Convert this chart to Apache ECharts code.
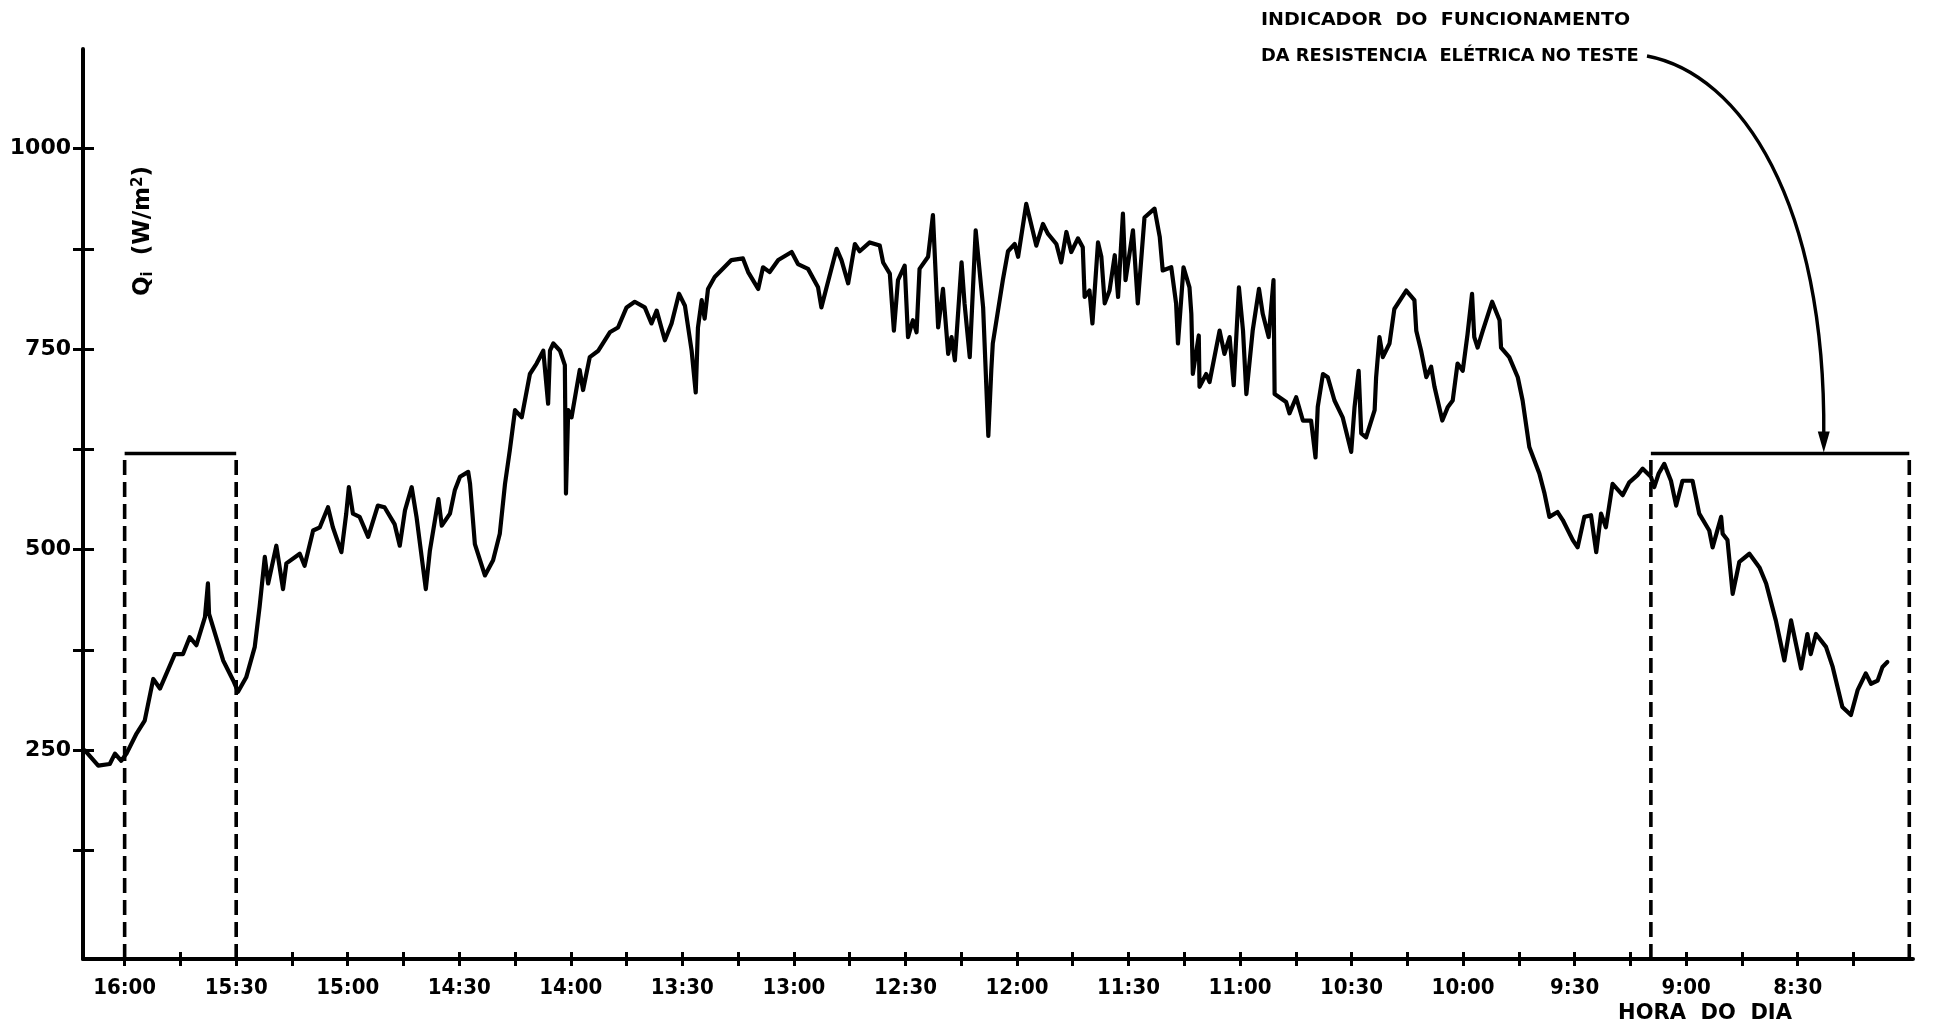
<!DOCTYPE html>
<html>
<head>
<meta charset="utf-8">
<script src="https://cdn.jsdelivr.net/npm/echarts@6/dist/echarts.min.js"></script>
<style>
  html, body { margin: 0; padding: 0; background: #ffffff; }
  #chart { width: 1938px; height: 1026px; }
</style>
</head>
<body>
<div id="chart"></div>
<script>
// Clock time of each reading, in minutes after midnight (afternoon first, the axis runs right-to-left in time)
const clockMinutes = [
  970.7, 967.1, 964.0, 962.6, 960.9, 959.5, 956.8, 954.6, 952.3, 950.5, 946.5, 944.3, 942.5, 940.7, 938.4, 937.6, 937.3,
  933.5, 930.8, 929.5, 927.3, 925.0, 923.7, 922.3, 921.4, 919.2, 917.4, 916.5, 912.9, 911.6, 909.3, 907.5, 905.3, 904.0,
  901.7, 900.4, 899.7, 898.6, 896.8, 894.5, 891.9, 890.1, 887.4, 886.0,
  884.6, 882.8, 881.5, 879.0, 877.9, 875.6, 874.7, 872.5, 871.2, 869.8, 867.6, 867.1, 865.8, 863.1, 860.9, 859.1, 857.7,
  856.4, 855.0, 853.2, 851.0, 849.2, 847.4, 846.1, 845.6, 844.7, 842.9, 841.6, 841.3, 840.7, 839.8, 837.6, 836.7, 834.9,
  832.6, 829.5, 827.3, 825.0, 822.8, 820.1, 818.3, 816.9, 814.7, 812.9, 810.9, 809.3, 807.5, 806.4, 805.8, 804.8, 804.0, 803.1,
  801.3, 796.8, 793.7, 792.3, 789.6, 788.3, 786.5, 784.2, 780.6, 778.9, 776.2, 773.5, 772.6, 771.2, 768.5, 767.2, 765.4,
  763.6, 762.3, 759.6, 756.9, 756.0, 754.2, 753.1, 752.0, 750.2, 749.3, 748.0, 747.0, 746.2, 743.9, 742.6, 741.2, 739.9,
  738.5, 737.6, 736.7, 734.9, 734.1, 732.7, 731.1, 729.1, 727.7, 726.9, 726.5, 723.8, 722.4, 720.6,
  719.7, 717.5, 714.8, 713.0, 711.7, 709.4, 708.1, 706.7, 705.4, 703.6, 702.3, 701.8, 700.5, 699.7, 698.2, 697.3, 696.4,
  695.1, 693.7, 692.8, 691.5, 690.8, 688.8, 687.5, 685.7, 683.0, 681.6, 680.8, 678.5, 677.2, 676.7, 675.2, 673.6, 673.1,
  672.7, 671.1, 670.9, 669.1, 668.2, 665.5, 664.2, 662.8, 661.7, 660.3, 659.2, 658.3, 656.6, 654.9, 653.9, 652.3, 651.0,
  650.7, 647.6, 646.7, 644.9, 643.1, 640.9, 639.7, 639.1, 637.7, 636.4,
  634.6, 632.4, 630.1, 629.2, 628.1, 627.4, 626.1, 623.8, 623.4, 622.5, 621.6, 619.8, 618.5, 615.3, 613.1, 612.6, 611.3,
  609.9, 608.6, 607.7, 605.6, 604.1, 602.8, 601.5, 600.1, 598.8, 597.6, 597.0, 596.1, 594.7, 592.2, 590.2, 589.8, 587.6,
  585.3, 584.0, 582.2, 579.5, 578.1, 576.8, 574.6, 573.2, 570.5, 569.2, 567.4, 565.6, 564.2, 562.9, 561.6, 559.8, 557.1,
  555.3, 553.1,
  551.7, 549.5, 548.6, 547.4, 545.9, 544.1, 542.7, 541.0, 538.3, 536.5, 533.8, 532.9, 530.6, 530.2, 528.9, 527.5, 525.7,
  523.0, 520.3, 518.5, 515.9, 513.6, 511.8, 509.1, 507.4, 506.5, 505.1, 502.4, 500.6, 498.0, 495.7, 493.9, 491.7, 490.3,
  488.5, 487.2, 485.9
];

// Incident irradiance Qi in W/m², one value per reading above
const irradiance = [
  250, 231, 233, 246, 237, 246, 271, 287, 339, 327, 370, 370, 391, 381, 416, 458, 420,
  362, 337, 323, 341, 379, 429, 491, 458, 505, 451, 483, 495, 480, 524, 528, 553, 528,
  497, 545, 578, 545, 541, 516, 555, 553, 532, 505,
  549, 578, 541, 451, 499, 563, 530, 545, 574, 591, 597, 582, 507, 468, 487, 520, 582,
  624, 674, 665, 719, 732, 748, 682, 748, 757, 748, 730, 570, 674, 665, 724, 699, 740,
  748, 771, 777, 802, 809, 802, 782, 798, 761, 782, 819, 804, 748, 696, 777, 811, 788, 825,
  840, 861, 863, 846, 825, 852, 846, 861, 871, 856, 850, 827, 802, 827, 875, 861, 832,
  881, 872, 883, 879, 858, 844, 773, 836, 854, 765, 786, 771, 850, 865, 917, 777, 825,
  744, 765, 736, 858, 807, 740, 898, 802, 642, 724, 757, 836, 872, 881,
  865, 931, 879, 906, 894, 881, 858, 896, 871, 888, 877, 815, 823, 782, 883, 865, 807,
  823, 867, 815, 919, 836, 898, 807, 914, 925, 890, 848, 852, 807, 757, 852, 827, 794,
  719, 767, 703, 719, 709, 773, 744, 765, 705, 827, 773, 694, 773, 825, 794, 765, 836,
  694, 684, 670, 690, 661, 661, 615, 678, 719, 715,
  686, 665, 622, 678, 723, 645, 640, 674, 715, 765, 740, 757, 800, 823, 811, 773, 748,
  715, 728, 703, 661, 678, 686, 732, 723, 769, 819, 765, 752, 773, 809, 786, 752, 740,
  715, 686, 628, 595, 570, 541, 547, 537, 512, 503, 541, 543, 497, 545, 528, 582, 568,
  584, 593,
  601, 591, 578, 595, 607, 586, 555, 586, 586, 545, 524, 503, 541, 520, 512, 445, 485,
  495, 478, 458, 412, 362, 412, 352, 395, 370, 395, 379, 354, 304, 294, 325, 346, 333,
  337, 354, 360
];

// Periods when the electric heater of the test was switched on: [start, end] in minutes
const heaterPeriods = [[960, 930], [549.5, 480]];
const heaterLevel = 620;      // height of the on/off indicator, in axis units
const arrowTime = 503;        // where the callout arrow meets the indicator

// Axis ticks and labels
const xTickMinutes = [495, 510, 525, 540, 555, 570, 585, 600, 615, 630, 645, 660, 675, 690, 705, 720, 735, 750,
  765, 780, 795, 810, 825, 840, 855, 870, 885, 900, 915, 930, 945, 960];
const xLabelMinutes = [510, 540, 570, 600, 630, 660, 690, 720, 750, 780, 810, 840, 870, 900, 930, 960];
const yTickValues = [125, 250, 375, 500, 625, 750, 875, 1000];
const yLabelValues = [250, 500, 750, 1000];

const X_MIN = 479, X_MAX = 971.2, Y_MIN = -10, Y_MAX = 1124;

function clockLabel(v) {
  const h = Math.floor(v / 60);
  const m = Math.round(v - h * 60);
  return h + ':' + String(m).padStart(2, '0');
}

const chart = echarts.init(document.getElementById('chart'), null, { renderer: 'canvas' });

const ink = '#000000';
const series = [{
  type: 'line',
  name: 'Qi',
  data: clockMinutes.map((t, i) => [t, irradiance[i]]),
  symbol: 'none',
  smooth: false,
  lineStyle: { color: ink, width: 4.2, join: 'round', cap: 'round' },
  z: 5
}];

heaterPeriods.forEach(([a, b]) => {
  [a, b].forEach(edge => {
    series.push({
      type: 'line',
      data: [[edge, Y_MIN], [edge, heaterLevel]],
      symbol: 'none',
      lineStyle: { color: ink, width: 3.6, type: [15, 7] },
      z: 3
    });
  });
  series.push({
    type: 'line',
    data: [[a, heaterLevel], [b, heaterLevel]],
    symbol: 'none',
    lineStyle: { color: ink, width: 3.6 },
    z: 3
  });
});

chart.setOption({
  animation: false,
  backgroundColor: '#ffffff',
  grid: { left: 83, right: 25, top: 49, bottom: 67, containLabel: false },
  xAxis: [{
    type: 'value', inverse: true, min: X_MIN, max: X_MAX, position: 'bottom',
    axisLine: { show: true, onZero: false, lineStyle: { color: ink, width: 4 } },
    axisTick: { show: true, customValues: xTickMinutes, length: 7, lineStyle: { color: ink, width: 3 } },
    axisLabel: {
      customValues: xLabelMinutes, formatter: clockLabel, fontSize: 22, margin: 18,
      fontFamily: 'DejaVu Sans Condensed', fontWeight: 'bold', color: ink
    },
    splitLine: { show: false }
  }, {
    type: 'value', inverse: true, min: X_MIN, max: X_MAX, position: 'bottom',
    axisLine: { show: false, onZero: false },
    axisTick: { show: true, inside: true, customValues: xTickMinutes, length: 7, lineStyle: { color: ink, width: 3 } },
    axisLabel: { show: false },
    splitLine: { show: false }
  }],
  yAxis: [{
    type: 'value', min: Y_MIN, max: Y_MAX, position: 'left',
    axisLine: { show: true, onZero: false, lineStyle: { color: ink, width: 4 } },
    axisTick: { show: true, customValues: yTickValues, length: 10, lineStyle: { color: ink, width: 3 } },
    axisLabel: {
      customValues: yLabelValues, formatter: v => String(v), fontSize: 22, margin: 12,
      fontFamily: 'DejaVu Sans', fontWeight: 'bold', color: ink
    },
    splitLine: { show: false }
  }, {
    type: 'value', min: Y_MIN, max: Y_MAX, position: 'left',
    axisLine: { show: false, onZero: false },
    axisTick: { show: true, inside: true, customValues: yTickValues, length: 11, lineStyle: { color: ink, width: 3 } },
    axisLabel: { show: false },
    splitLine: { show: false }
  }],
  series: series
});

// Annotations: axis titles and the callout pointing at the heater indicator
const tip = chart.convertToPixel({ xAxisIndex: 0, yAxisIndex: 0 }, [arrowTime, heaterLevel]);
const start = [1647, 56];

chart.setOption({
  graphic: [
    {
      type: 'text', x: 143, y: 231, rotation: Math.PI / 2,
      style: {
        text: 'Q{s|i}  (W/m{p|2})',
        align: 'center', verticalAlign: 'middle',
        font: 'bold 23px "DejaVu Sans"', fill: ink,
        rich: {
          s: { fontSize: 15, fontWeight: 'bold', fontFamily: 'DejaVu Sans', verticalAlign: 'bottom', padding: [10, 0, 0, 0] },
          p: { fontSize: 15, fontWeight: 'bold', fontFamily: 'DejaVu Sans', verticalAlign: 'top', padding: [0, 0, 10, 0] }
        }
      }
    },
    {
      type: 'text', x: 1705, y: 1014,
      style: { text: 'HORA  DO  DIA', align: 'center', verticalAlign: 'middle', font: 'bold 21px "DejaVu Sans"', fill: ink }
    },
    {
      type: 'text', x: 1261, y: 21, scaleX: 1.12,
      style: { text: 'INDICADOR  DO  FUNCIONAMENTO', align: 'left', verticalAlign: 'middle', font: 'bold 17px "DejaVu Sans"', fill: ink }
    },
    {
      type: 'text', x: 1261, y: 57, scaleX: 1.05,
      style: { text: 'DA RESISTENCIA  ELÉTRICA NO TESTE', align: 'left', verticalAlign: 'middle', font: 'bold 17px "DejaVu Sans"', fill: ink }
    },
    {
      type: 'bezierCurve',
      shape: {
        x1: start[0], y1: start[1],
        cpx1: start[0] + 95, cpy1: start[1] + 18,
        cpx2: tip[0] + 2, cpy2: tip[1] - 250,
        x2: tip[0], y2: tip[1] - 18
      },
      style: { stroke: ink, lineWidth: 3.4, fill: null }
    },
    {
      type: 'polygon',
      shape: { points: [[tip[0] - 6, tip[1] - 22], [tip[0] + 6, tip[1] - 22], [tip[0], tip[1] - 1]] },
      style: { fill: ink }
    }
  ]
});
</script>
</body>
</html>
